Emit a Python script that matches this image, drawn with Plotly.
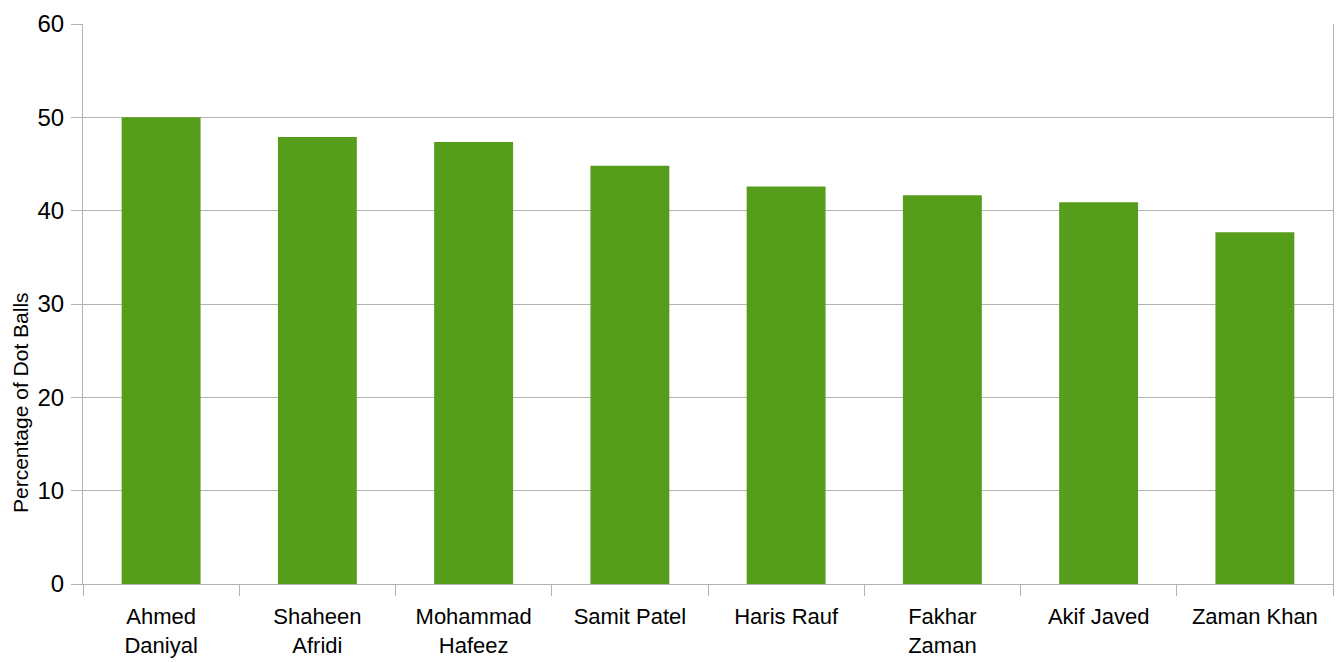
import plotly.graph_objects as go

players = ["Ahmed<br>Daniyal", "Shaheen<br>Afridi", "Mohammad<br>Hafeez", "Samit Patel",
           "Haris Rauf", "Fakhar<br>Zaman", "Akif Javed", "Zaman Khan"]
dot_ball_pct = [50.0, 47.9, 47.35, 44.8, 42.6, 41.65, 40.9, 37.7]
y_ticks = [0, 10, 20, 30, 40, 50, 60]
y_title = "Percentage of Dot Balls"

grid = "#b3b3b3"
font_family = "Liberation Sans, Arial, sans-serif"

fig = go.Figure(go.Bar(x=players, y=dot_ball_pct, marker_color="#579d1c",
                       marker_line_width=0))

# page body has an 8px default margin, so the figure is sized to fit
fig.update_layout(
    width=1335, height=654,
    margin=dict(l=75, r=10, t=16, b=78, autoexpand=False),
    paper_bgcolor="white", plot_bgcolor="white",
    bargap=0.495,
    showlegend=False,
    font=dict(family=font_family, size=22, color="black"),
)
fig.update_xaxes(
    showline=True, linecolor=grid, linewidth=1,
    ticks="outside", tickson="boundaries", ticklen=11, tickcolor=grid,
    showgrid=False,
    tickfont=dict(size=22, color="black"),
    ticklabelstandoff=13,
)
fig.update_yaxes(
    range=[0, 60], tickvals=y_ticks,
    showline=True, linecolor=grid, linewidth=1, mirror=True,
    ticks="outside", ticklen=11, tickcolor=grid,
    showgrid=True, gridcolor=grid, gridwidth=1,
    zeroline=False,
    tickfont=dict(size=24, color="black"),
    ticklabelstandoff=2,
)
fig.add_annotation(
    text=y_title, textangle=-90, showarrow=False,
    xref="paper", yref="paper", x=(20 - 83) / 1250, y=(584 - 403) / 560,
    xanchor="center", yanchor="middle", borderpad=0,
    font=dict(size=21, color="black", family=font_family),
)

fig.write_html("out.html")
